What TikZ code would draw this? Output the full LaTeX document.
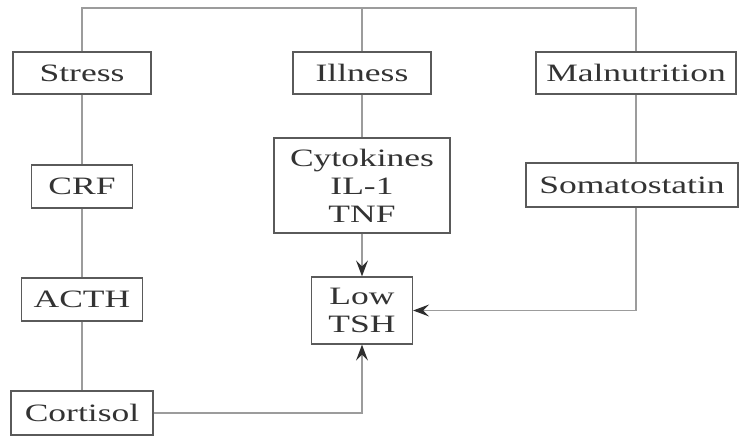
\documentclass[tikz,border=0pt]{standalone}
\usepackage{fontspec}
\setmainfont{Liberation Serif}
\usepackage{graphicx}
\usetikzlibrary{arrows.meta}
\newcommand\sx[1]{\scalebox{1.42}[1]{#1}}
\tikzset{
  box/.style={draw=boxgray, line width=1.3pt, fill=white, text=txtgray,
    inner sep=0pt, align=center, font=\fontsize{25}{28}\selectfont},
  link/.style={draw=linegray, line width=1.4pt},
  arr/.style={link, -{Stealth[length=16pt,width=12pt,inset=6pt,color=arrgray]}}
}
\definecolor{boxgray}{HTML}{5A5A5A}
\definecolor{linegray}{HTML}{9C9C9C}
\definecolor{txtgray}{HTML}{333333}
\definecolor{arrgray}{HTML}{2E2E2E}
\begin{document}
\begin{tikzpicture}[x=1pt,y=1pt]
\useasboundingbox (0,0) rectangle (739,436);
\coordinate (topL) at (82,428);
\coordinate (topM) at (362,428);
\coordinate (topR) at (636,428);

\node[box, minimum width=138pt, minimum height=42pt] (stress) at (82,363) {\sx{Stress}};
\node[box, minimum width=138pt, minimum height=42pt] (illness) at (362,363) {\sx{Illness}};
\node[box, minimum width=200pt, minimum height=42pt] (maln) at (636,363) {\sx{Malnutrition}};
\node[box, minimum width=101pt, minimum height=43pt] (crf) at (82,249.5) {\sx{CRF}};
\node[box, minimum width=176pt, minimum height=95pt] (cyto) at (362,250.5) {\sx{Cytokines}\\\sx{IL-1}\\\sx{TNF}};
\node[box, minimum width=212pt, minimum height=44pt] (soma) at (632,251) {\sx{Somatostatin}};
\node[box, minimum width=121pt, minimum height=43pt] (acth) at (82,136.5) {\sx{ACTH}};
\node[box, minimum width=101pt, minimum height=67pt] (tsh) at (362,125.5) {\sx{Low}\\\sx{TSH}};
\node[box, minimum width=142pt, minimum height=44pt] (cort) at (82,23) {\sx{Cortisol}};

\draw[link] (stress.north) -- (topL) -- (topR) -- (maln.north);
\draw[link] (topM) -- (illness.north);
\draw[link] (stress) -- (crf);
\draw[link] (crf) -- (acth);
\draw[link] (acth) -- (cort);
\draw[link] (illness) -- (cyto);
\draw[link] (maln.south) -- (maln.south |- soma.north);
\draw[arr] (cyto) -- (tsh);
\draw[arr] (soma.south -| topR) |- (tsh.east);
\draw[arr] (cort.east) -| (tsh.south);
\end{tikzpicture}
\end{document}
